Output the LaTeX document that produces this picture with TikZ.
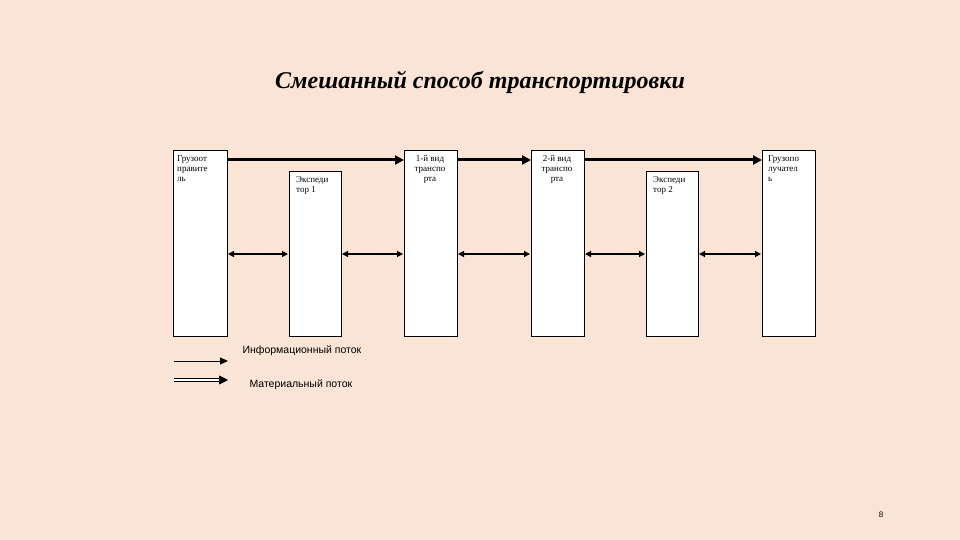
\documentclass[tikz,border=0pt]{standalone}
\usepackage{fontspec}
\setmainfont{Liberation Serif}
\newfontfamily\lsans{Liberation Sans}
\usetikzlibrary{arrows.meta}
\definecolor{bg}{RGB}{250,228,214}
\tikzset{
 box/.style={draw=black,fill=white,line width=0.8pt,inner sep=0pt},
 btxt/.style={font=\fontsize{9}{10}\selectfont,align=center,inner sep=0pt,anchor=north},
 ltxt/.style={font=\fontsize{9}{10}\selectfont,align=left,inner sep=0pt,anchor=north west},
 thick/.style={line width=3pt,-{Triangle[length=9pt,width=9pt]}},
 info/.style={line width=1.2pt,{Triangle[length=6pt,width=6pt]}-{Triangle[length=6pt,width=6pt]}},
}
\begin{document}
\begin{tikzpicture}[x=1pt,y=-1pt]
\fill[bg] (0,0) rectangle (960,540);
\node[font=\fontsize{24}{27}\selectfont\bfseries\itshape] (title) at (480,82) {Смешанный способ транспортировки};
\draw[box] (173,150) rectangle (227,336);
\draw[box] (289,171) rectangle (341,336);
\draw[box] (404,150) rectangle (457,336);
\draw[box] (531,150) rectangle (584,336);
\draw[box] (646,171) rectangle (698,336);
\draw[box] (762,150) rectangle (815,336);
\coordinate (r1) at (227,160); \coordinate (l3) at (404,160);
\coordinate (r3) at (457,160); \coordinate (l4) at (531,160);
\coordinate (r4) at (584,160); \coordinate (l6) at (762,160);
\draw[thick] (r1) -- (l3);
\draw[thick] (r3) -- (l4);
\draw[thick] (r4) -- (l6);
\foreach \a/\b in {227/289,341/404,457/531,584/646,698/762}{
 \draw[info] (\a+1,254) -- (\b-1,254);
}
\node[ltxt] (t1) at (177,155) {Грузоот\\правите\\ль};
\node[ltxt] (t2) at (296,176) {Экспеди\\тор 1};
\node[btxt] (t3) at (430,155) {1-й вид\\транспо\\рта};
\node[btxt] (t4) at (557,155) {2-й вид\\транспо\\рта};
\node[ltxt] (t5) at (653,176) {Экспеди\\тор 2};
\node[ltxt] (t6) at (768,155) {Грузопо\\лучател\\ь};
\coordinate (la) at (174,361); \coordinate (lb) at (228,361);
\draw[line width=1pt,-{Triangle[length=8pt,width=7pt]}] (la) -- (lb);
\coordinate (ma) at (174,380); \coordinate (mb) at (228,380);
\draw[double,double distance=2pt,line width=0.7pt,-{Triangle[length=9pt,width=9pt]}] (ma) -- (mb);
\node[font=\lsans\fontsize{10.5}{12}\selectfont,anchor=west] (li) at (239,351) {Информационный поток};
\node[font=\lsans\fontsize{10.5}{12}\selectfont,anchor=west] (lm) at (246,385) {Материальный поток};
\node[font=\lsans\fontsize{8}{9}\selectfont] (pg) at (881,515) {8};
\end{tikzpicture}
\end{document}
